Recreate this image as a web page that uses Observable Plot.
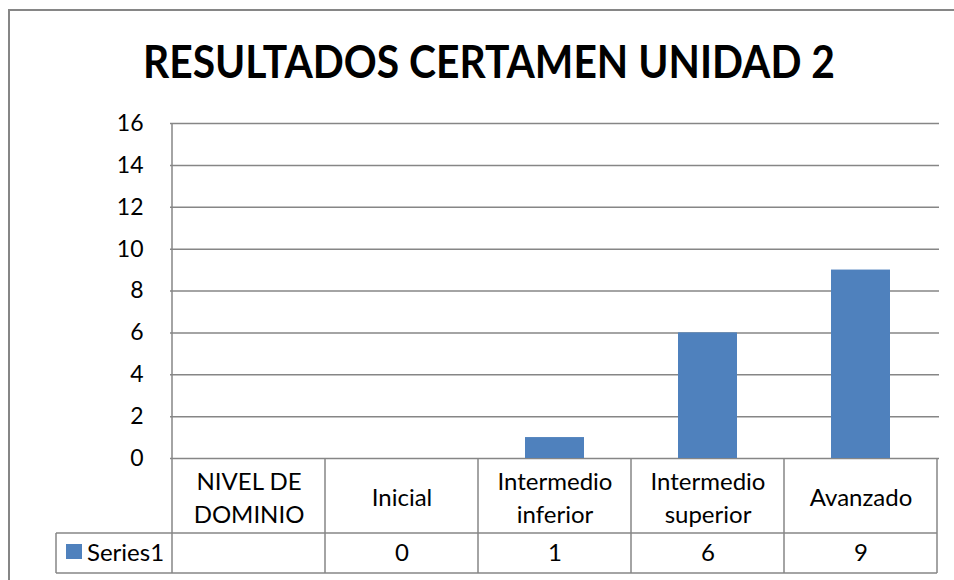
<!DOCTYPE html>
<html><head><meta charset="utf-8">
<script src="https://cdn.jsdelivr.net/npm/d3@7"></script>
<script src="https://cdn.jsdelivr.net/npm/@observablehq/plot@0.6"></script>
<style>
html,body{margin:0;padding:0;background:#fff;overflow:hidden}
</style>
</head><body><div id="chart"></div>
<script>
const title = "RESULTADOS CERTAMEN UNIDAD 2";
const headerLabel = "NIVEL DE DOMINIO";
const categories = ["Inicial", "Intermedio inferior", "Intermedio superior", "Avanzado"];
const values = [0, 1, 6, 9];
const seriesName = "Series1";
const yTicks = [0, 2, 4, 6, 8, 10, 12, 14, 16];

const columns = [headerLabel, ...categories];
const bars = categories.map((c, i) => ({category: c, value: values[i]}));
const cells = columns.map((c, i) => ({category: c, label: c, value: i === 0 ? "" : String(values[i - 1])}));

const GRID = "#868686";
const BLUE = "#4F81BD";
const ROW1 = 75, ROW2 = 40;
const TABLE_FONT = 24;

function decorations(index, scales, vals, dims) {
  const x = scales.x, y = scales.y;
  const bw = x.bandwidth();
  const g = d3.create("svg:g");
  const y0 = y(0), r1 = y0 + ROW1, r2 = r1 + ROW2;
  const left = x(columns[0]), right = x(columns[columns.length - 1]) + bw;
  const legendLeft = left - 116;
  const line = (x1, y1, x2, y2) => g.append("line").attr("x1", x1).attr("y1", y1).attr("x2", x2).attr("y2", y2)
      .attr("stroke", GRID).attr("stroke-width", 1.5);
  // outer chart border
  g.append("rect").attr("x", 9).attr("y", 10).attr("width", 2000).attr("height", 2000)
    .attr("fill", "none").attr("stroke", GRID).attr("stroke-width", 2);
  // left axis line
  line(left, y(yTicks[yTicks.length - 1]), left, r2);
  // table column lines
  columns.forEach(c => line(x(c) + bw, y0, x(c) + bw, r2));
  // table horizontal lines
  line(legendLeft, r1, right, r1);
  line(legendLeft, r2, right, r2);
  line(legendLeft, r1, legendLeft, r2);
  // legend key
  g.append("rect").attr("x", legendLeft + 10).attr("y", r1 + 11).attr("width", 16).attr("height", 15).attr("fill", BLUE);
  g.append("text").attr("x", legendLeft + 31).attr("y", (r1 + r2) / 2).attr("dy", "0.35em")
    .attr("text-anchor", "start").attr("font-size", TABLE_FONT).attr("fill", "#000").text(seriesName);
  // title
  g.append("text").attr("x", dims.width / 2 + 12).attr("y", 78).attr("text-anchor", "middle")
    .attr("font-size", 46).attr("font-weight", "bold").attr("fill", "#000")
    .attr("textLength", 692).attr("lengthAdjust", "spacingAndGlyphs").text(title);
  return g.node();
}

const chart = Plot.plot({
  width: 954,
  height: 580,
  marginLeft: 170,
  marginRight: 15,
  marginTop: 123,
  marginBottom: 122,
  style: {fontFamily: "Lato, 'Open Sans', sans-serif", fontSize: "22px", background: "#fff", color: "#000", overflow: "visible"},
  x: {domain: columns, padding: 0, axis: null},
  y: {domain: [0, 16], label: null},
  marks: [
    Plot.ruleY(yTicks, {stroke: GRID, strokeWidth: 1.5, strokeOpacity: 1}),
    Plot.barY(bars, {x: "category", y: "value", fill: BLUE, insetLeft: 47, insetRight: 47}),
    Plot.axisY(yTicks, {tickSize: 0, tickPadding: 27, fontSize: 23, fill: "#000", label: null}),
    Plot.text(cells, {x: "category", text: "label", frameAnchor: "bottom", dy: ROW1 / 2, lineAnchor: "middle",
      lineWidth: 5.6, lineHeight: 1.35, fontSize: TABLE_FONT, fill: "#000"}),
    Plot.text(cells, {x: "category", text: "value", frameAnchor: "bottom", dy: ROW1 + ROW2 / 2, lineAnchor: "middle",
      fontSize: TABLE_FONT, fill: "#000"}),
    decorations
  ]
});
document.getElementById("chart").append(chart);
</script>
</body></html>
